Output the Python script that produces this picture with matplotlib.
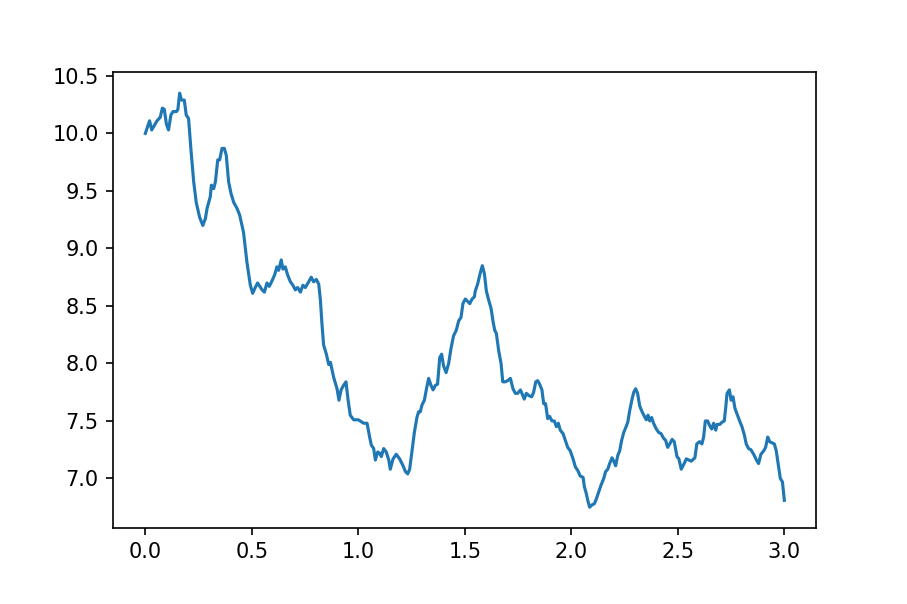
import matplotlib
matplotlib.use("Agg")
import matplotlib.pyplot as plt

# values
t = [0.0, 0.02, 0.03, 0.055, 0.07, 0.08, 0.089, 0.099, 0.109, 0.12, 0.13, 0.146,
     0.153, 0.161, 0.17, 0.183, 0.192, 0.203, 0.215, 0.227, 0.239, 0.255, 0.27,
     0.282, 0.29, 0.305, 0.31, 0.321, 0.329, 0.34, 0.349, 0.36, 0.371, 0.38,
     0.391, 0.402, 0.415, 0.43, 0.443, 0.454, 0.461, 0.477, 0.493, 0.504, 0.516,
     0.527, 0.548, 0.559, 0.571, 0.582, 0.595, 0.607, 0.618, 0.626, 0.638, 0.646,
     0.657, 0.668, 0.681, 0.693, 0.704, 0.715, 0.728, 0.74, 0.751, 0.767, 0.779,
     0.79, 0.803, 0.814, 0.822, 0.829, 0.837, 0.85, 0.861, 0.869, 0.884, 0.9,
     0.909, 0.919, 0.931, 0.942, 0.952, 0.962, 0.978, 1.0, 1.025, 1.041, 1.053,
     1.061, 1.072, 1.08, 1.091, 1.1, 1.108, 1.119, 1.131, 1.143, 1.15, 1.163,
     1.178, 1.194, 1.21, 1.221, 1.232, 1.241, 1.252, 1.263, 1.275, 1.283, 1.291,
     1.299, 1.31, 1.319, 1.33, 1.341, 1.351, 1.362, 1.372, 1.382, 1.391, 1.4,
     1.412, 1.424, 1.435, 1.447, 1.46, 1.471, 1.482, 1.491, 1.502, 1.513, 1.523,
     1.534, 1.545, 1.549, 1.56, 1.573, 1.582, 1.592, 1.601, 1.612, 1.623, 1.632,
     1.64, 1.648, 1.659, 1.67, 1.678, 1.69, 1.701, 1.714, 1.726, 1.737, 1.748,
     1.761, 1.77, 1.779, 1.789, 1.801, 1.814, 1.823, 1.833, 1.842, 1.851, 1.862,
     1.87, 1.879, 1.889, 1.898, 1.909, 1.92, 1.93, 1.939, 1.948, 1.961, 1.972,
     1.983, 1.995, 2.008, 2.019, 2.03, 2.042, 2.055, 2.061, 2.07, 2.077, 2.086,
     2.097, 2.108, 2.117, 2.128, 2.139, 2.152, 2.161, 2.171, 2.18, 2.191, 2.199,
     2.208, 2.218, 2.227, 2.236, 2.246, 2.255, 2.265, 2.274, 2.285, 2.293, 2.302,
     2.311, 2.321, 2.332, 2.343, 2.352, 2.36, 2.368, 2.377, 2.386, 2.399, 2.41,
     2.421, 2.433, 2.443, 2.452, 2.462, 2.473, 2.483, 2.496, 2.505, 2.516, 2.527,
     2.54, 2.552, 2.563, 2.574, 2.58, 2.589, 2.602, 2.613, 2.621, 2.629, 2.64,
     2.649, 2.659, 2.668, 2.678, 2.684, 2.697, 2.708, 2.718, 2.725, 2.731, 2.742,
     2.75, 2.759, 2.768, 2.778, 2.79, 2.801, 2.812, 2.821, 2.832, 2.843, 2.856,
     2.869, 2.879, 2.89, 2.903, 2.912, 2.922, 2.931, 2.942, 2.953, 2.962, 2.973,
     2.981, 2.991, 3.0]
price = [10.0, 10.11, 10.03, 10.11, 10.14, 10.22, 10.21, 10.08, 10.03, 10.16,
         10.19, 10.19, 10.21, 10.35, 10.29, 10.29, 10.16, 10.13, 9.84, 9.58, 9.40,
         9.27, 9.20, 9.26, 9.35, 9.45, 9.55, 9.52, 9.58, 9.77, 9.77, 9.87, 9.87,
         9.81, 9.58, 9.48, 9.40, 9.35, 9.29, 9.20, 9.14, 8.88, 8.68, 8.61, 8.66,
         8.70, 8.64, 8.62, 8.70, 8.67, 8.72, 8.77, 8.84, 8.81, 8.90, 8.82, 8.84,
         8.77, 8.71, 8.68, 8.64, 8.66, 8.62, 8.68, 8.66, 8.71, 8.75, 8.71, 8.73,
         8.69, 8.55, 8.35, 8.16, 8.08, 7.99, 8.01, 7.88, 7.78, 7.68, 7.77, 7.81,
         7.84, 7.68, 7.55, 7.51, 7.51, 7.48, 7.48, 7.36, 7.29, 7.26, 7.16, 7.23,
         7.22, 7.19, 7.26, 7.23, 7.16, 7.08, 7.17, 7.21, 7.17, 7.11, 7.06, 7.04,
         7.08, 7.24, 7.40, 7.53, 7.58, 7.58, 7.64, 7.68, 7.77, 7.87, 7.81, 7.77,
         7.81, 7.82, 8.05, 8.08, 7.98, 7.92, 8.00, 8.13, 8.24, 8.29, 8.37, 8.40,
         8.52, 8.56, 8.54, 8.52, 8.56, 8.58, 8.63, 8.69, 8.79, 8.85, 8.78, 8.63,
         8.55, 8.48, 8.37, 8.29, 8.26, 8.11, 8.00, 7.84, 7.84, 7.85, 7.87, 7.78,
         7.74, 7.74, 7.77, 7.73, 7.69, 7.74, 7.72, 7.71, 7.75, 7.84, 7.85, 7.82,
         7.77, 7.65, 7.65, 7.52, 7.54, 7.50, 7.50, 7.45, 7.48, 7.42, 7.39, 7.33,
         7.27, 7.24, 7.17, 7.10, 7.07, 7.02, 7.01, 6.93, 6.87, 6.81, 6.75, 6.77,
         6.78, 6.82, 6.88, 6.94, 7.00, 7.06, 7.08, 7.13, 7.18, 7.15, 7.11, 7.20,
         7.24, 7.33, 7.40, 7.44, 7.49, 7.59, 7.69, 7.75, 7.78, 7.74, 7.63, 7.58,
         7.54, 7.51, 7.55, 7.50, 7.53, 7.48, 7.43, 7.40, 7.39, 7.35, 7.33, 7.27,
         7.30, 7.34, 7.32, 7.19, 7.17, 7.08, 7.12, 7.17, 7.16, 7.15, 7.17, 7.18,
         7.30, 7.32, 7.30, 7.36, 7.50, 7.50, 7.46, 7.43, 7.48, 7.42, 7.47, 7.47,
         7.49, 7.50, 7.62, 7.74, 7.77, 7.68, 7.71, 7.61, 7.56, 7.50, 7.45, 7.38,
         7.30, 7.26, 7.25, 7.21, 7.16, 7.13, 7.21, 7.24, 7.27, 7.36, 7.32, 7.31,
         7.30, 7.24, 7.10, 7.00, 6.97, 6.81]

fig = plt.figure(figsize=(9.07 / 1.5, 6.04 / 1.5), dpi=150)
plt.subplots_adjust(left=0.125, right=0.9, bottom=0.126, top=0.88)
plt.plot(t, price)
plt.savefig("out.png", dpi=150)
